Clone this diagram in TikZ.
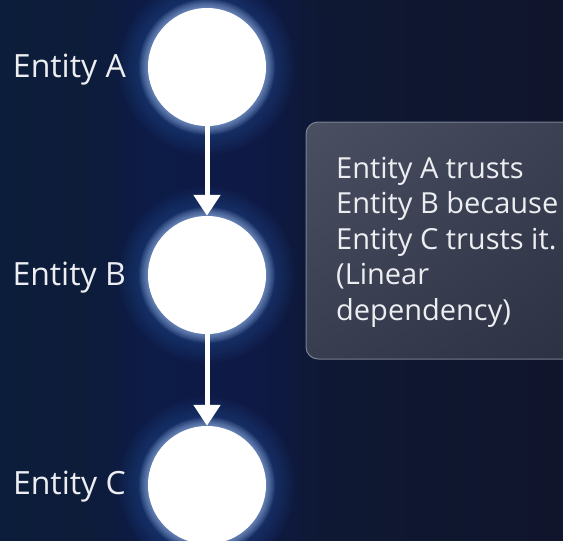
\documentclass[tikz,border=0pt]{standalone}
\usepackage{fontspec}
\setmainfont{Open Sans}
\usetikzlibrary{arrows.meta,shadings}

\definecolor{bgleft}{HTML}{0C1D3B}
\definecolor{bgmid}{HTML}{0E1934}
\definecolor{bgright}{HTML}{10152C}
\definecolor{glowblue}{HTML}{2A62B0}
\definecolor{haloblue}{HTML}{B8D4FF}
\definecolor{panelA}{HTML}{4A4F61}
\definecolor{panelB}{HTML}{383D50}
\definecolor{panelC}{HTML}{2B3043}
\definecolor{panelD}{HTML}{3A3F52}
\definecolor{panelEdge}{HTML}{8E93A2}
\definecolor{labeltext}{HTML}{EDEEF2}

\tikzset{
  entity/.style={circle, fill=white, minimum size=118pt, inner sep=0pt},
  entitylabel/.style={text=labeltext, inner sep=0pt, anchor=base east,
    font=\fontsize{32}{36}\selectfont},
  trustarrow/.style={white, line width=5pt,
    -{Triangle[width=26pt,length=21pt]}},
  notetext/.style={text=labeltext, inner sep=0pt, align=left,
    font=\fontsize{29}{35.5}\selectfont}
}

\begin{document}
\begin{tikzpicture}[x=1pt,y=-1pt]
  \useasboundingbox (0,0) rectangle (563,541);
  \clip (0,0) rectangle (563,541);

  % background
  \shade[left color=bgleft, right color=bgright, middle color=bgmid]
    (0,0) rectangle (563,541);

  % faint column of light behind the chain
  \foreach \w in {0,4,...,60} {
    \fill[glowblue, opacity=0.012, rounded corners=40]
      (147-\w,-20) rectangle (267+\w,560);
  }

  % halos round the three entities
  \foreach \cy in {67,275,485} {
    \foreach \r in {61,64,...,88} {
      \fill[glowblue, opacity=0.05] (207,\cy) circle (\r);
    }
    \foreach \r in {59,60,...,68} {
      \fill[haloblue, opacity=0.07] (207,\cy) circle (\r);
    }
  }

  % entities
  \node[entity] (A) at (207,67) {};
  \node[entity] (B) at (207,275) {};
  \node[entity] (C) at (207,485) {};

  \node[entitylabel] (la) at (126,77) {Entity A};
  \node[entitylabel] (lb) at (126,285) {Entity B};
  \node[entitylabel] (lc) at (126,494) {Entity C};

  % trust links
  \draw[trustarrow] (A) -- (B);
  \draw[trustarrow] (B) -- (C);

  % explanation panel
  \shade[rounded corners=12, upper left=panelA, upper right=panelD,
         lower left=panelB, lower right=panelC]
    (306,122) rectangle (590,359);
  \draw[panelEdge, line width=1pt, rounded corners=12, opacity=0.8]
    (306,122) rectangle (590,359);
  \node[notetext, anchor=north west] (note) at (336,157)
    {Entity A trusts\\Entity B because\\Entity C trusts it.\\(Linear\\dependency)};
\end{tikzpicture}
\end{document}
